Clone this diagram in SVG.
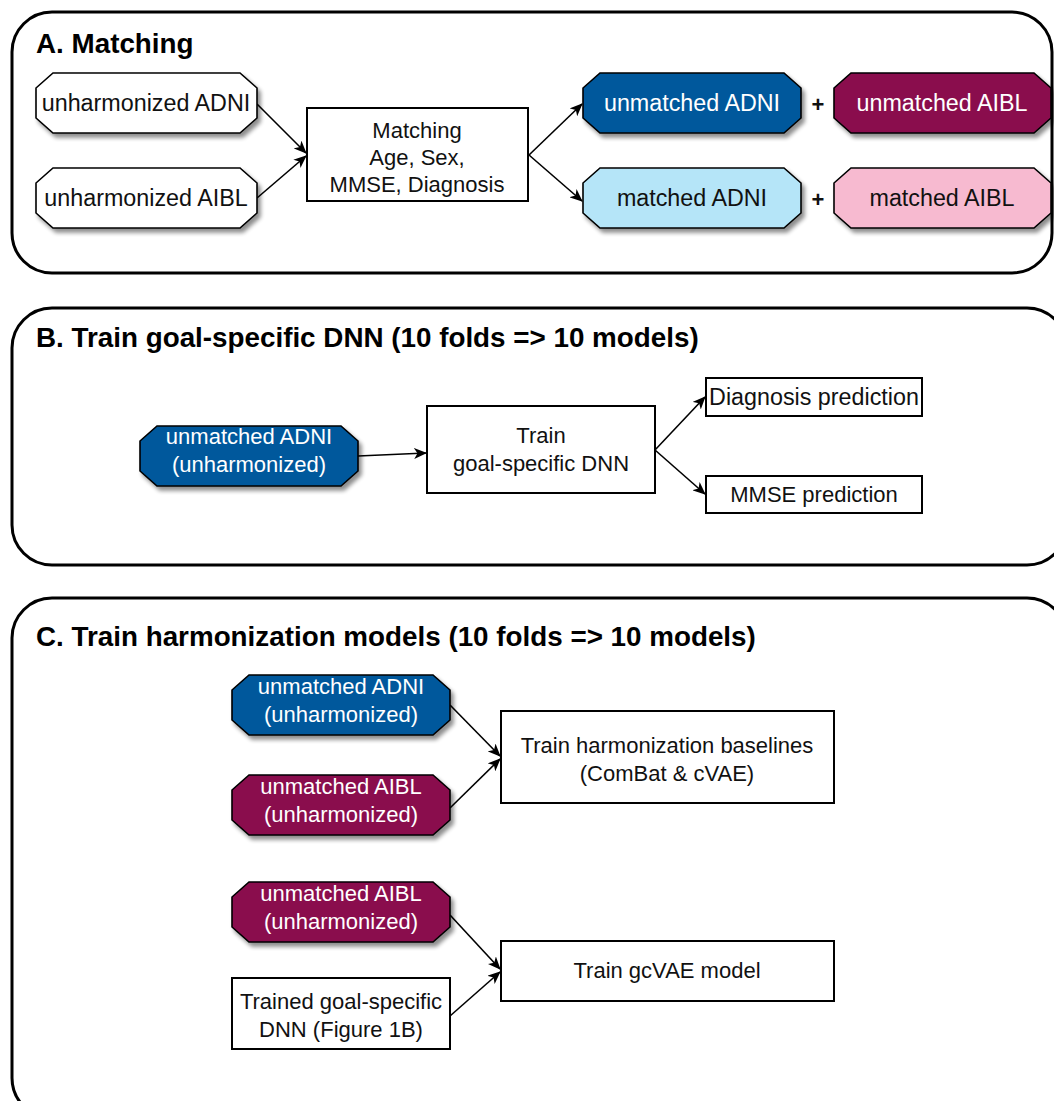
<svg xmlns="http://www.w3.org/2000/svg" width="1054" height="1101" viewBox="0 0 1054 1101">
<style>
.panel{fill:#fff;stroke:#000;stroke-width:3}
.title{font-family:"Liberation Sans",Arial,sans-serif;font-weight:bold;font-size:27.8px;fill:#000}
.t{font-family:"Liberation Sans",Arial,sans-serif;font-size:22px;text-anchor:middle;fill:#111}
.tw{font-family:"Liberation Sans",Arial,sans-serif;font-size:22px;text-anchor:middle;fill:#fff}
.big{font-size:23.3px}
.box{fill:#fff;stroke:#000;stroke-width:2}
.oct{stroke:#000;stroke-width:1.6;filter:url(#sh)}
.wh{fill:#fff}.bl{fill:#02589C}.mg{fill:#8A0E4D}.lb{fill:#B5E5F8}.pk{fill:#F7BAD0}
.conn line{stroke:#000;stroke-width:1.6;marker-end:url(#ah)}
</style>
<defs>
<filter id="sh" x="-10%" y="-20%" width="125%" height="150%">
<feGaussianBlur in="SourceAlpha" stdDeviation="2"/>
<feOffset dx="3" dy="4" result="b"/>
<feComponentTransfer><feFuncA type="linear" slope="0.45"/></feComponentTransfer>
<feMerge><feMergeNode/><feMergeNode in="SourceGraphic"/></feMerge>
</filter>
<marker id="ah" viewBox="0 0 13 11" refX="12" refY="5.5" markerWidth="13" markerHeight="11" markerUnits="userSpaceOnUse" orient="auto">
<path d="M0,0 L13,5.5 L0,11 L3.5,5.5 z" fill="#000"/>
</marker>
</defs>

<g id="panelA">
<rect class="panel" x="12" y="12" width="1040" height="261" rx="40" ry="40"/>
<text class="title" x="36" y="53">A. Matching</text>
</g>
<g id="panelB">
<rect class="panel" x="12" y="308" width="1055" height="257" rx="40" ry="40"/>
<text class="title" x="36" y="347">B. Train goal-specific DNN (10 folds =&gt; 10 models)</text>
</g>
<g id="panelC">
<rect class="panel" x="12" y="598" width="1055" height="520" rx="40" ry="40"/>
<text class="title" x="36" y="646">C. Train harmonization models (10 folds =&gt; 10 models)</text>
</g>

<g class="conn" id="connectors">
<line x1="257" y1="104" x2="306" y2="153"/>
<line x1="257" y1="198" x2="306" y2="156"/>
<line x1="529" y1="155" x2="582" y2="104"/>
<line x1="529" y1="155" x2="582" y2="201"/>
<line x1="358" y1="456" x2="426" y2="453"/>
<line x1="655" y1="450" x2="705" y2="397"/>
<line x1="655" y1="450" x2="705" y2="494"/>
<line x1="450" y1="705" x2="500" y2="756"/>
<line x1="450" y1="808" x2="500" y2="759"/>
<line x1="450" y1="915" x2="500" y2="969"/>
<line x1="450" y1="1016" x2="500" y2="972"/>
</g>

<g id="nA1"><polygon class="oct wh" points="53,73 240,73 257,88 257,118 240,133 53,133 36,118 36,88"/><text class="t big" x="146" y="111">unharmonized ADNI</text></g>
<g id="nA2"><polygon class="oct wh" points="53,168 240,168 257,183 257,213 240,228 53,228 36,213 36,183"/><text class="t big" x="146" y="206">unharmonized AIBL</text></g>
<g id="nA3"><rect class="box" x="307" y="108" width="221" height="93"/><text class="t" x="417" y="138">Matching</text><text class="t" x="417" y="165">Age, Sex,</text><text class="t" x="417" y="192">MMSE, Diagnosis</text></g>
<g id="nA4"><polygon class="oct bl" points="600,73 784,73 801,88 801,118 784,133 600,133 583,118 583,88"/><text class="tw big" x="692" y="111">unmatched ADNI</text></g>
<text class="t" x="818" y="112" style="font-weight:bold">+</text>
<g id="nA5"><polygon class="oct mg" points="851,73 1034,73 1051,88 1051,118 1034,133 851,133 834,118 834,88"/><text class="tw big" x="942" y="111">unmatched AIBL</text></g>
<g id="nA6"><polygon class="oct lb" points="600,168 784,168 801,183 801,213 784,228 600,228 583,213 583,183"/><text class="t big" x="692" y="206">matched ADNI</text></g>
<text class="t" x="818" y="207" style="font-weight:bold">+</text>
<g id="nA7"><polygon class="oct pk" points="851,168 1034,168 1051,183 1051,213 1034,228 851,228 834,213 834,183"/><text class="t big" x="942" y="206">matched AIBL</text></g>

<g id="nB1"><polygon class="oct bl" points="157,426 341,426 358,441 358,471 341,486 157,486 140,471 140,441"/><text class="tw" x="249" y="444">unmatched ADNI</text><text class="tw" x="249" y="472">(unharmonized)</text></g>
<g id="nB2"><rect class="box" x="427" y="406" width="228" height="87"/><text class="t" x="541" y="443">Train</text><text class="t" x="541" y="471">goal-specific DNN</text></g>
<g id="nB3"><rect class="box" x="706" y="378" width="216" height="38"/><text class="t big" x="814" y="405">Diagnosis prediction</text></g>
<g id="nB4"><rect class="box" x="706" y="476" width="216" height="37"/><text class="t" x="814" y="502">MMSE prediction</text></g>

<g id="nC1"><polygon class="oct bl" points="249,675 433,675 450,690 450,720 433,735 249,735 232,720 232,690"/><text class="tw" x="341" y="694">unmatched ADNI</text><text class="tw" x="341" y="722">(unharmonized)</text></g>
<g id="nC2"><polygon class="oct mg" points="249,775 433,775 450,790 450,820 433,835 249,835 232,820 232,790"/><text class="tw" x="341" y="794">unmatched AIBL</text><text class="tw" x="341" y="822">(unharmonized)</text></g>
<g id="nC3"><rect class="box" x="501" y="711" width="333" height="92"/><text class="t" x="667" y="753">Train harmonization baselines</text><text class="t" x="667" y="781">(ComBat &amp; cVAE)</text></g>
<g id="nC4"><polygon class="oct mg" points="249,882 433,882 450,897 450,927 433,942 249,942 232,927 232,897"/><text class="tw" x="341" y="901">unmatched AIBL</text><text class="tw" x="341" y="929">(unharmonized)</text></g>
<g id="nC5"><rect class="box" x="232" y="978" width="218" height="71"/><text class="t" x="341" y="1009">Trained goal-specific</text><text class="t" x="341" y="1037">DNN (Figure 1B)</text></g>
<g id="nC6"><rect class="box" x="501" y="941" width="333" height="60"/><text class="t" x="667" y="978">Train gcVAE model</text></g>
</svg>
